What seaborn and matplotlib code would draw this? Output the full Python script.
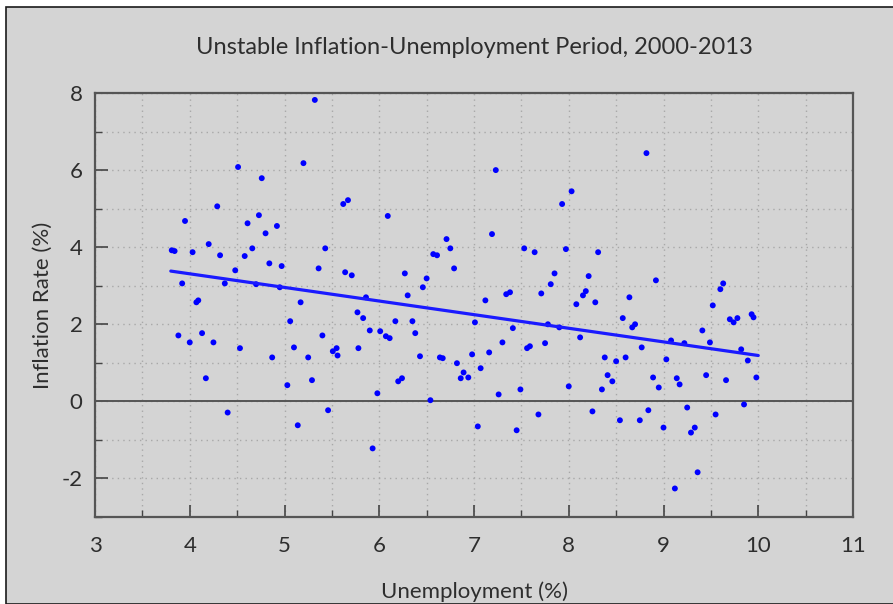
import matplotlib
matplotlib.use("Agg")
import matplotlib.pyplot as plt
import seaborn as sns
import pandas as pd
import numpy as np
from matplotlib.patches import Rectangle
from matplotlib.ticker import MultipleLocator

unemployment = [
    3.81, 3.84, 3.88, 3.92, 3.95, 4.00, 4.03, 4.07, 4.09, 4.13, 4.17, 4.20, 4.25, 4.29, 4.32,
    4.37, 4.40, 4.48, 4.51, 4.53, 4.58, 4.61, 4.66, 4.70, 4.73, 4.76, 4.80, 4.84, 4.87, 4.92,
    4.97, 4.95, 5.03, 5.06, 5.10, 5.14, 5.17, 5.20, 5.25, 5.29, 5.32, 5.36, 5.40, 5.43, 5.46,
    5.51, 5.55, 5.56, 5.62, 5.67, 5.64, 5.71, 5.77, 5.78, 5.83, 5.86, 5.90, 5.93, 5.98, 6.01,
    6.07, 6.09, 6.11, 6.17, 6.20, 6.24, 6.27, 6.30, 6.35, 6.38, 6.43, 6.46, 6.50, 6.54, 6.57,
    6.61, 6.64, 6.67, 6.71, 6.75, 6.79, 6.82, 6.86, 6.89, 6.94, 6.98, 7.01, 7.04, 7.07, 7.12,
    7.16, 7.19, 7.23, 7.26, 7.30, 7.34, 7.38, 7.41, 7.45, 7.49, 7.53, 7.56, 7.59, 7.64, 7.68,
    7.71, 7.75, 7.78, 7.81, 7.85, 7.90, 7.93, 7.97, 8.00, 8.03, 8.08, 8.12, 8.15, 8.18, 8.21,
    8.25, 8.28, 8.31, 8.35, 8.38, 8.41, 8.46, 8.50, 8.54, 8.57, 8.60, 8.64, 8.67, 8.70, 8.75,
    8.77, 8.82, 8.84, 8.89, 8.92, 8.95, 9.00, 9.03, 9.08, 9.12, 9.14, 9.17, 9.22, 9.25, 9.29,
    9.33, 9.36, 9.41, 9.45, 9.49, 9.52, 9.55, 9.60, 9.63, 9.66, 9.70, 9.74, 9.78, 9.82, 9.85,
    9.89, 9.93, 9.95, 9.98,
]
inflation = [
    3.92, 3.90, 1.71, 3.06, 4.68, 1.53, 3.87, 2.57, 2.62, 1.77, 0.60, 4.08, 1.53, 5.06, 3.79,
    3.06, -0.29, 3.40, 6.08, 1.38, 3.77, 4.62, 3.97, 3.04, 4.83, 5.79, 4.36, 3.58, 1.14, 4.55,
    3.51, 2.96, 0.42, 2.08, 1.40, -0.62, 2.57, 6.18, 1.14, 0.55, 7.82, 3.45, 1.71, 3.97, -0.23,
    1.30, 1.38, 1.19, 5.12, 5.22, 3.35, 3.27, 2.31, 1.38, 2.16, 2.70, 1.84, -1.22, 0.21, 1.82,
    1.69, 4.81, 1.64, 2.08, 0.52, 0.60, 3.32, 2.75, 2.08, 1.77, 1.17, 2.96, 3.19, 0.03, 3.82,
    3.79, 1.14, 1.12, 4.21, 3.97, 3.45, 0.99, 0.60, 0.75, 0.62, 1.22, 2.05, -0.65, 0.86, 2.62,
    1.27, 4.34, 6.00, 0.18, 1.53, 2.78, 2.83, 1.90, -0.75, 0.31, 3.97, 1.38, 1.43, 3.87, -0.34,
    2.80, 1.51, 2.00, 3.04, 3.32, 1.92, 5.12, 3.95, 0.39, 5.45, 2.52, 1.66, 2.75, 2.86, 3.25,
    -0.26, 2.57, 3.87, 0.31, 1.14, 0.68, 0.52, 1.04, -0.49, 2.16, 1.14, 2.70, 1.92, 2.00, -0.49,
    1.40, 6.44, -0.23, 0.62, 3.14, 0.36, -0.68, 1.09, 1.58, -2.26, 0.60, 0.44, 1.51, -0.16, -0.81,
    -0.68, -1.84, 1.84, 0.68, 1.53, 2.49, -0.34, 2.91, 3.06, 0.55, 2.13, 2.05, 2.16, 1.35, -0.08,
    1.06, 2.26, 2.18, 0.62,
]
# trend line end points
trend_x = [3.80, 10.00]
trend_y = [3.38, 1.19]
x_ticks = [3, 4, 5, 6, 7, 8, 9, 10, 11]
y_ticks = [-2, 0, 2, 4, 6, 8]
title = "Unstable Inflation-Unemployment Period, 2000-2013"
x_label = "Unemployment (%)"
y_label = "Inflation Rate (%)"

df = pd.DataFrame({"Unemployment": unemployment, "Inflation": inflation})
trend = pd.DataFrame({"x": trend_x, "y": trend_y})

sns.set_theme(style="white")
plt.rcParams["font.family"] = ["Lato", "DejaVu Sans"]
plt.rcParams["axes.unicode_minus"] = False

BG = "#d4d4d4"
TXT = "#2e2e2e"
fig = plt.figure(figsize=(8.93, 6.04), dpi=100, facecolor="white")
fig.patches.append(Rectangle((6 / 893, 0), 1.0, 1 - 7 / 604, transform=fig.transFigure,
                             facecolor=BG, edgecolor="#1a1a1a", linewidth=1.2, zorder=-10))
ax = fig.add_axes([95 / 893, 1 - 517 / 604, (853 - 95) / 893, (517 - 93) / 604])
ax.set_facecolor(BG)

sns.scatterplot(data=df, x="Unemployment", y="Inflation", ax=ax, s=18,
                color="#0000ff", edgecolor="none", zorder=3)
sns.lineplot(data=trend, x="x", y="y", ax=ax, color="#1a1aff", linewidth=2.3, zorder=4)

ax.axhline(0, color="#555555", linewidth=1.4, zorder=2)
ax.set_xlim(3, 11)
ax.set_ylim(-3, 8)
ax.set_xticks(x_ticks)
ax.set_yticks(y_ticks)
ax.xaxis.set_minor_locator(MultipleLocator(0.5))
ax.yaxis.set_minor_locator(MultipleLocator(1))
ax.grid(which="both", color="#a8a8a8", linestyle=(0, (1, 3)), linewidth=1.0, zorder=0)
ax.set_axisbelow(True)
ax.tick_params(which="major", direction="in", length=9, width=1.2, color="#444444",
               labelsize=16, labelcolor=TXT, left=True, bottom=True)
ax.tick_params(axis="x", which="major", pad=14)
ax.tick_params(axis="y", which="major", pad=9)
ax.tick_params(which="minor", direction="in", length=5, width=1.0, color="#444444",
               left=True, bottom=True)
for s in ax.spines.values():
    s.set_color("#555555")
    s.set_linewidth(1.6)

ax.set_xlabel(x_label, fontsize=16, color=TXT, labelpad=18)
ax.set_ylabel(y_label, fontsize=16, color=TXT, labelpad=6)
ax.set_title(title, fontsize=17, color=TXT, pad=28)

fig.savefig("out.png", dpi=100, facecolor="white")
